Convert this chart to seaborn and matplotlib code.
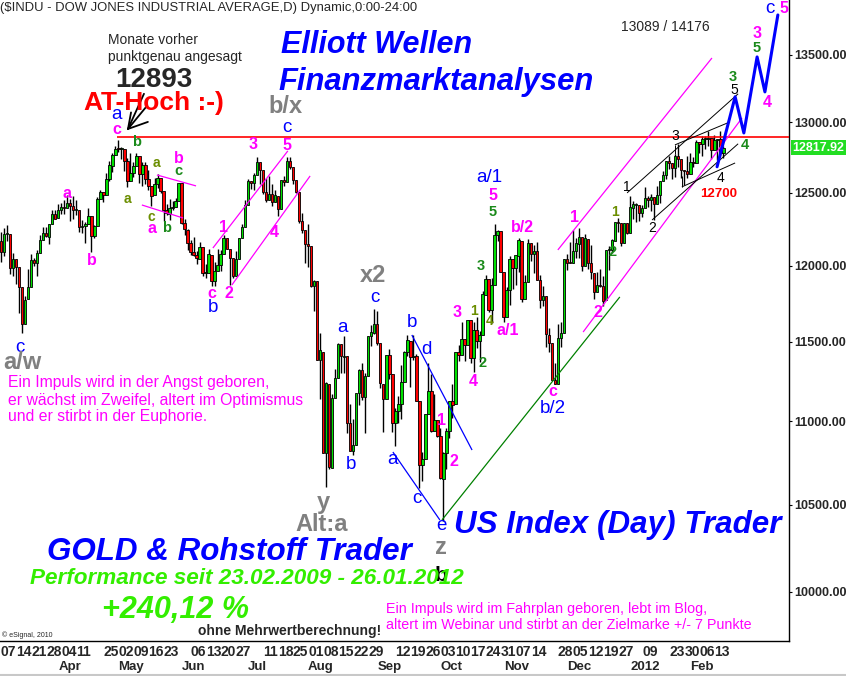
import numpy as np
import pandas as pd
import matplotlib
matplotlib.use("Agg")
import matplotlib.pyplot as plt
import matplotlib.transforms as mtransforms
from matplotlib.ticker import NullLocator
import seaborn as sns

# ---------------- daily candles (day, open, high, low, close) ----------------
mar11 = [(7,12169,12229,12024,12090),(8,12089,12254,12064,12214),(9,12213,12276,12169,12213),
         (10,12211,12211,11946,11984),(11,11983,12087,11934,12044),(14,12042,12042,11880,11993),
         (15,11988,11988,11688,11855),(16,11855,11855,11555,11613),(17,11614,11800,11614,11775),
         (18,11777,11979,11777,11859),(21,11860,12078,11860,12037),(22,12036,12051,11995,12019),
         (23,12016,12105,11930,12086),(24,12087,12207,12087,12171),(25,12170,12260,12170,12221),
         (28,12221,12261,12197,12198),(29,12197,12284,12144,12280),(30,12280,12376,12280,12350),
         (31,12350,12381,12315,12320)]
apr11 = [(1,12321,12419,12321,12377),(4,12376,12431,12353,12400),(5,12398,12450,12355,12393),
         (6,12394,12484,12394,12427),(7,12426,12453,12300,12409),(8,12409,12479,12318,12380),
         (11,12381,12450,12343,12381),(12,12380,12380,12225,12263),(13,12264,12311,12221,12270),
         (14,12269,12295,12150,12285),(15,12285,12391,12285,12341),(18,12340,12340,12093,12202),
         (19,12202,12276,12187,12266),(20,12267,12472,12267,12453),(21,12453,12515,12453,12506),
         (25,12505,12505,12436,12480),(26,12480,12635,12480,12595),(27,12595,12722,12582,12691),
         (28,12690,12778,12647,12763),(29,12763,12830,12763,12811)]
may11 = [(2,12810,12876,12785,12808),(3,12807,12822,12734,12807),(4,12806,12808,12650,12724),
         (5,12723,12747,12540,12584),(6,12585,12780,12585,12638),(9,12637,12716,12613,12685),
         (10,12684,12781,12684,12760),(11,12758,12758,12570,12630),(12,12630,12719,12545,12696),
         (13,12695,12716,12560,12596),(16,12595,12660,12516,12548),(17,12545,12545,12405,12479),
         (18,12480,12600,12480,12560),(19,12561,12631,12530,12606),(20,12604,12604,12500,12512),
         (23,12511,12511,12300,12381),(24,12381,12421,12348,12356),(25,12355,12454,12311,12395),
         (26,12394,12442,12377,12403),(27,12402,12466,12402,12441),(31,12442,12570,12442,12570)]
jun11 = [(1,12569,12569,12284,12290),(2,12289,12318,12206,12248),(3,12245,12247,12104,12151),
         (6,12150,12170,12069,12090),(7,12089,12196,12068,12071),(8,12070,12098,12014,12049),
         (9,12048,12158,12048,12124),(10,12123,12123,11932,11952),(13,11951,12010,11915,11953),
         (14,11953,12115,11953,12076),(15,12075,12075,11862,11897),(16,11896,12025,11862,11962),
         (17,11962,12110,11962,12004),(20,12004,12104,11966,12080),(21,12080,12205,12080,12190),
         (22,12190,12190,12110,12110),(23,12109,12109,11874,12050),(24,12050,12050,11920,11934),
         (27,11934,12100,11934,12043),(28,12043,12190,12043,12188),(29,12188,12282,12188,12262),
         (30,12262,12450,12262,12414)]
jul11 = [(1,12414,12599,12413,12582),(5,12582,12582,12527,12570),(6,12569,12640,12521,12626),
         (7,12626,12753,12626,12719),(8,12718,12718,12559,12657),(11,12656,12656,12490,12505),
         (12,12504,12602,12437,12447),(13,12446,12617,12446,12492),(14,12491,12562,12408,12437),
         (15,12437,12515,12437,12480),(18,12479,12479,12341,12385),(19,12385,12592,12385,12587),
         (20,12587,12620,12549,12572),(21,12571,12751,12571,12724),(22,12724,12750,12666,12681),
         (25,12681,12681,12560,12592),(26,12592,12592,12499,12502),(27,12501,12501,12287,12303),
         (28,12302,12361,12220,12240),(29,12239,12240,12018,12143)]
aug11 = [(1,12144,12285,11989,12133),(2,12132,12132,11860,11867),(3,11866,11904,11700,11897),
         (4,11896,11896,11383,11384),(5,11384,11555,11139,11445),(8,11433,11434,10810,10810),
         (9,10810,11244,10604,11240),(10,11229,11229,10711,10720),(11,10719,11172,10719,11144),
         (12,11143,11324,11143,11270),(15,11269,11490,11269,11483),(16,11483,11483,11300,11406),
         (17,11405,11537,11300,11410),(18,11406,11406,10928,10991),(19,10989,11109,10818,10818),
         (22,10818,11015,10796,10855),(23,10855,11177,10855,11177),(24,11177,11328,11100,11321),
         (25,11321,11364,11135,11150),(26,11149,11300,10930,11285),(29,11284,11540,11284,11540),
         (30,11539,11610,11476,11560),(31,11559,11716,11553,11614)]
sep11 = [(1,11613,11698,11479,11494),(2,11492,11492,11204,11240),(6,11231,11231,10932,11139),
         (7,11140,11415,11140,11415),(8,11413,11456,11264,11296),(9,11294,11294,10933,10992),
         (12,10990,11083,10850,11062),(13,11061,11159,10989,11105),(14,11106,11354,11012,11247),
         (15,11246,11440,11246,11433),(16,11434,11545,11412,11509),(19,11508,11508,11214,11401),
         (20,11402,11547,11385,11408),(21,11407,11425,11124,11125),(22,11124,11124,10597,10734),
         (23,10733,10813,10640,10771),(26,10771,11044,10771,11044),(27,11045,11366,11045,11191),
         (28,11190,11293,10933,10939),(29,10940,11170,10940,11011),(30,11010,11010,10906,10913)]
oct11 = [(3,10912,10957,10653,10655),(4,10650,10811,10404,10809),(5,10806,10957,10711,10940),
         (6,10939,11123,10897,11123),(7,11123,11233,11023,11103),(10,11104,11434,11104,11433),
         (11,11432,11477,11376,11417),(12,11416,11626,11416,11519),(13,11518,11518,11375,11479),
         (14,11478,11644,11478,11644),(17,11643,11643,11366,11397),(18,11396,11626,11305,11577),
         (19,11576,11660,11462,11505),(20,11504,11568,11371,11542),(21,11543,11832,11543,11809),
         (24,11808,11936,11808,11913),(25,11912,11912,11695,11707),(26,11706,11918,11619,11869),
         (27,11874,12284,11874,12209),(28,12208,12243,12164,12232),(31,12232,12232,11955,11955)]
nov11 = [(1,11955,11955,11630,11658),(2,11659,11860,11659,11836),(3,11836,12063,11736,12045),
         (4,12044,12044,11846,11983),(7,11982,12070,11873,12069),(8,12068,12188,11958,12170),
         (9,12167,12167,11761,11781),(10,11781,11938,11781,11894),(11,11893,12179,11893,12153),
         (14,12152,12152,12030,12079),(15,12078,12139,11954,12097),(16,12096,12158,11906,11906),
         (17,11905,11939,11722,11771),(18,11770,11867,11735,11796),(21,11795,11795,11469,11548),
         (22,11547,11592,11433,11494),(23,11493,11493,11257,11258),(25,11257,11367,11231,11231),
         (28,11232,11617,11232,11524),(29,11523,11628,11468,11556),(30,11559,12046,11559,12046)]
dec11 = [(1,12045,12080,11973,12020),(2,12021,12159,12016,12019),(5,12020,12244,12020,12098),
         (6,12097,12190,12054,12150),(7,12147,12258,12054,12196),(8,12195,12195,11965,11997),
         (9,11998,12214,11998,12184),(12,12183,12183,11976,12021),(13,12020,12139,11911,11955),
         (14,11953,11953,11781,11824),(15,11825,11959,11825,11869),(16,11868,11975,11858,11867),
         (19,11866,11930,11735,11766),(20,11769,12107,11769,12104),(21,12103,12135,11968,12108),
         (22,12107,12178,12087,12170),(23,12169,12295,12169,12295),(27,12294,12324,12229,12292),
         (28,12291,12293,12131,12151),(29,12151,12292,12151,12288),(30,12287,12287,12214,12218)]
jan12 = [(3,12221,12479,12221,12398),(4,12396,12440,12320,12418),(5,12414,12431,12295,12416),
         (6,12415,12415,12300,12360),(9,12359,12415,12328,12393),(10,12394,12541,12394,12462),
         (11,12460,12474,12398,12449),(12,12448,12490,12374,12471),(13,12469,12469,12311,12422),
         (17,12423,12545,12423,12482),(18,12481,12580,12428,12579),(19,12578,12654,12578,12624),
         (20,12623,12721,12595,12720),(23,12720,12755,12665,12709),(24,12708,12708,12593,12676),
         (25,12673,12775,12610,12758),(26,12757,12841,12677,12735),(27,12734,12734,12601,12660),
         (30,12659,12659,12555,12654),(31,12654,12757,12600,12633)]
feb12 = [(1,12632,12780,12632,12716),(2,12716,12753,12680,12706),(3,12706,12876,12706,12862),
         (6,12861,12861,12783,12845),(7,12843,12899,12757,12878),(8,12878,12905,12805,12884),
         (9,12883,12936,12830,12891),(10,12890,12890,12738,12801),(13,12801,12906,12801,12874),
         (14,12874,12879,12728,12878),(15,12878,12938,12762,12781),(16,12781,12830,12745,12818)]

month_keys = ["2011-03","2011-04","2011-05","2011-06","2011-07","2011-08",
              "2011-09","2011-10","2011-11","2011-12","2012-01","2012-02"]
month_data = [mar11, apr11, may11, jun11, jul11, aug11, sep11, oct11, nov11, dec11, jan12, feb12]

# date labels (month key, day) and month labels
day_label_dates = [("2011-03",7),("2011-03",14),("2011-03",21),("2011-03",28),("2011-04",4),("2011-04",11),
                   ("2011-04",25),("2011-05",2),("2011-05",9),("2011-05",16),("2011-05",23),
                   ("2011-06",6),("2011-06",13),("2011-06",20),("2011-06",27),
                   ("2011-07",11),("2011-07",18),("2011-07",25),("2011-08",1),("2011-08",8),("2011-08",15),
                   ("2011-08",22),("2011-08",29),
                   ("2011-09",12),("2011-09",19),("2011-09",26),("2011-10",3),("2011-10",10),("2011-10",17),
                   ("2011-10",24),("2011-10",31),("2011-11",7),("2011-11",14),
                   ("2011-11",28),("2011-12",5),("2011-12",12),("2011-12",19),("2011-12",27),
                   ("2012-01",9),("2012-01",23),("2012-01",30),("2012-02",6),("2012-02",13)]
month_label_keys = ["2011-04","2011-05","2011-06","2011-07","2011-08","2011-09",
                    "2011-10","2011-11","2011-12","2012-01","2012-02"]
month_label_text = ["Apr","May","Jun","Jul","Aug","Sep","Oct","Nov","Dec","2012","Feb"]

y_ticks = [10000, 10500, 11000, 11500, 12000, 12500, 13000, 13500]
last_price = 12817.92
at_high = 12893

# wave labels: (text, trading-day index, price)
blue_labels = [("a",38.5,13060),("c",6.3,11464),("b",70.4,11723),("c",95.0,12964),("a/1",162.1,12603),
               ("a",113.3,11592),("c",124.3,11788),("b",116.3,10735),("b",136.5,11628),("d",141.5,11448),
               ("a",130.2,10765),("c",138.2,10533),("e",146.2,10375),("b/2",183.4,11082),("c",255.5,13852)]
magenta_labels = [("c",38.5,12946),("a",21.9,12491),("b",30.2,12038),("b",59.1,12738),("a",50.2,12255),
                  ("1",73.8,12262),("2",75.7,11818),("c",70.1,11818),("3",83.7,12838),("5",95.0,12831),
                  ("4",90.7,12222),("3",151.5,11693),("4",156.8,11245),("5",163.5,12477),("a/1",168.4,11576),
                  ("b/2",173.1,12262),("1",190.4,12324),("2",198.3,11687),("c",183.4,11186),("1",146.5,11008),
                  ("2",150.5,10753),("3",251.2,13666),("4",254.5,13146),("5",260.1,13852)]
green_labels = [("b",45.2,12860),("c",58.8,12653),("b",55.1,12256),("5",163.5,12366),("3",159.5,11998),
                ("2",160.1,11365),("2",203.3,12092),("3",243.2,13335),("5",251.2,13553),("4",247.2,12838)]
olive_labels = [("a",41.9,12456),("a",51.8,12709),("c",49.8,12330),("1",157.1,11700),("4",162.5,11634),
                ("1",204.0,12366)]
black_labels = [("3",223.9,12903),("5",243.5,13239),("4",238.9,12603),("1",208.0,12540),("2",216.3,12256)]
gray_labels = [("a/w",7.0,11368),("b/x",94.4,13117),("x2",123.6,11931),("y",107.0,10515),
               ("Alt:a",106.6,10381),("z",146.2,10252)]

# trend / channel lines: ((i0, p0), (i1, p1))
magenta_lines = [((51.8,12624),(64.8,12547)),((46.8,12414),(60.5,12324)),
                 ((70.4,12119),(95.3,12795)),((76.7,11871),(102.7,12617)),
                 ((185.0,12106),(236.2,13477)),((193.4,11563),(246.2,13033))]
green_lines = [((146.5,10410),(205.6,11792))]
blue_thin_lines = [((130.2,10813),(145.8,10410)),((136.5,11544),(156.5,10825))]
black_lines = [((208.0,12498),(244.9,13210)),((216.3,12310),(244.9,12846)),
               ((223.9,12838),(242.2,13004)),((226.2,12540),(243.9,12709)),
               ((223.9,12838),(223.9,12770)),((226.2,12540),(226.2,12620))]
arrow_tip = (42.2, 12953)
arrow_ends = [(43.2,13073),(47.5,13210),(48.5,13121),(48.8,13004)]
proj_i = [237.9, 243.9, 246.8, 251.2, 253.8, 258.1]
proj_p = [12682, 13188, 12924, 13485, 13224, 13805]

# ---------------- build table ----------------
rows = []
for key, lst in zip(month_keys, month_data):
    for d, o, h, l, c in lst:
        rows.append((key, d, o, h, l, c))
df = pd.DataFrame(rows, columns=["month", "day", "o", "h", "l", "c"])
df["idx"] = np.arange(len(df))
lookup = {(m, d): i for m, d, i in zip(df.month, df.day, df.idx)}
first_of_month = df.groupby("month")["idx"].min()

# ---------------- figure ----------------
sns.set_style("white")
plt.rcParams['font.family'] = ['Liberation Sans', 'DejaVu Sans']

W, H = 846, 676
fig = plt.figure(figsize=(W/100, H/100), dpi=100)
fig.patch.set_facecolor("white")
ax = fig.add_axes([0, 35/H, 789/W, 641/H])
ax.set_facecolor("white")
ax.set_yscale("log")
ax.set_ylim(9729, 13921)
ax.set_xlim(-0.33, 261.8)

GREEN = "#00e000"
RED = "#ff0000"

# candles
ax.vlines(df.idx, df.l, df.h, color="black", lw=1.0, zorder=2)
up = df[df.c >= df.o]
dn = df[df.c < df.o]
for part, col in ((up, GREEN), (dn, RED)):
    lo = np.minimum(part.o, part.c)
    hi = np.maximum(part.o, part.c)
    ht = np.maximum(hi - lo, 6)
    ax.bar(part.idx, ht, bottom=lo, width=0.82, color=col, edgecolor="black", lw=0.6, zorder=3)

# red AT-high line
ax.hlines(at_high, 38.6, 261.8, color="red", lw=1.2, zorder=4)

def draw_lines(lines, color, lw):
    for (x0, y0), (x1, y1) in lines:
        ax.plot([x0, x1], [y0, y1], color=color, lw=lw, zorder=4, solid_capstyle="butt")

draw_lines(magenta_lines, "#ff00ff", 0.9)
draw_lines(green_lines, "#008000", 0.9)
draw_lines(blue_thin_lines, "#0000ff", 0.9)
draw_lines(black_lines, "black", 0.7)
for e in arrow_ends:
    ax.plot([arrow_tip[0], e[0]], [arrow_tip[1], e[1]], color="black", lw=1.3, zorder=6)

# projection
proj = pd.DataFrame({"i": proj_i, "p": proj_p})
sns.lineplot(data=proj, x="i", y="p", color="#0000ff", lw=2.2, ax=ax, zorder=5, sort=False)
ax.set_xlabel("")
ax.set_ylabel("")

def put(labels, color, size, weight):
    for t, i, p in labels:
        ax.text(i, p, t, color=color, fontsize=size, fontweight=weight, ha="center", va="center", zorder=7)

put(blue_labels, "#0000ff", 13.5, "normal")
put(magenta_labels, "#ff00ff", 11.5, "bold")
put(green_labels, "#1a8a1a", 10.5, "bold")
put(olive_labels, "#6b8e00", 10, "bold")
put(black_labels, "black", 10, "normal")
put(gray_labels, "#808080", 17, "bold")
ax.text(146.2, 10092, "b", color="black", fontsize=15, fontweight="bold", ha="center", va="center", zorder=7)
ax.text(238.5, 12491, "12700", color="#ff0000", fontsize=9.5, fontweight="bold", ha="center", va="center", zorder=7)

# axes styling
for s in ("left", "top"):
    ax.spines[s].set_visible(False)
for s in ("right", "bottom"):
    ax.spines[s].set_color("black")
    ax.spines[s].set_linewidth(1.0)
ax.yaxis.tick_right()
ax.yaxis.set_minor_locator(NullLocator())
ax.set_yticks(y_ticks)
ax.set_yticklabels([f"{v:.2f}" for v in y_ticks], fontsize=9, fontweight="bold")
ax.tick_params(axis="y", length=2, pad=1.5, color="black")

ax.xaxis.remove_overlapping_locs = False
ax.set_xticks([lookup[k] for k in day_label_dates])
ax.set_xticklabels([f"{d:02d}" for _, d in day_label_dates], fontsize=10, fontweight="bold", ha="left")
ax.set_xticks([first_of_month[k] for k in month_label_keys], minor=True)
ax.set_xticklabels(month_label_text, minor=True, fontsize=9.5, fontweight="bold", ha="left")
ax.tick_params(axis="x", which="both", length=0)
ax.tick_params(axis="x", which="major", pad=3)
ax.tick_params(axis="x", which="minor", pad=14.5)
ax.grid(False)

# last price box
trans = mtransforms.blended_transform_factory(ax.transAxes, ax.transData)
ax.text(1.004, last_price, f"{last_price:.2f}", transform=trans, color="white", fontsize=9, fontweight="bold",
        ha="left", va="center", clip_on=False, zorder=8,
        bbox=dict(boxstyle="square,pad=0.12", fc="#22dd22", ec="none"))

# ---------------- free texts ----------------
def ft(x, y, s, **kw):
    fig.text(x/W, 1 - y/H, s, **kw)

ft(0, 8, "($INDU - DOW JONES INDUSTRIAL AVERAGE,D) Dynamic,0:00-24:00", fontsize=9.4, ha="left", va="center")
ft(108, 40, "Monate vorher", fontsize=10, ha="left", va="center")
ft(108, 57, "punktgenau angesagt", fontsize=10, ha="left", va="center")
ft(154, 80, "12893", fontsize=20, fontweight="bold", ha="center", va="center")
ft(154, 103, "AT-Hoch :-)", fontsize=19, fontweight="bold", color="#ff0000", ha="center", va="center")
ft(377, 45, "Elliott Wellen", fontsize=22, fontweight="bold", style="italic", color="#0000ff", ha="center", va="center")
ft(436, 82, "Finanzmarktanalysen", fontsize=22.3, fontweight="bold", style="italic", color="#0000ff", ha="center", va="center")
ft(665, 27, "13089 / 14176", fontsize=10, ha="center", va="center")
ft(618, 525, "US Index (Day) Trader", fontsize=22.6, fontweight="bold", style="italic", color="#0000ff", ha="center", va="center")
ft(229, 552, "GOLD & Rohstoff Trader", fontsize=22.6, fontweight="bold", style="italic", color="#0000ff", ha="center", va="center")
ft(247, 578, "Performance seit 23.02.2009 - 26.01.2012", fontsize=16.2, fontweight="bold", style="italic", color="#33ee00", ha="center", va="center")
ft(175, 610, "+240,12 %", fontsize=22, fontweight="bold", style="italic", color="#33ee00", ha="center", va="center")
ft(290, 631, "ohne Mehrwertberechnung!", fontsize=10, fontweight="bold", ha="center", va="center")
ft(2, 635, "\u00a9 eSignal, 2010", fontsize=5, ha="left", va="center")
ft(8, 383, "Ein Impuls wird in der Angst geboren,", fontsize=11.3, color="#ff00ff", ha="left", va="center")
ft(8, 400, "er wächst im Zweifel, altert im Optimismus", fontsize=11.3, color="#ff00ff", ha="left", va="center")
ft(8, 416, "und er stirbt in der Euphorie.", fontsize=11.3, color="#ff00ff", ha="left", va="center")
ft(386, 609, "Ein Impuls wird im Fahrplan geboren, lebt im Blog,", fontsize=10.3, color="#ff00ff", ha="left", va="center")
ft(386, 625, "altert im Webinar und stirbt an der Zielmarke +/- 7 Punkte", fontsize=10.3, color="#ff00ff", ha="left", va="center")

fig.add_artist(plt.Line2D([0, 1], [1.5/H, 1.5/H], transform=fig.transFigure, color="#c8c8c8", lw=1.5))

fig.savefig("out.png", dpi=100, facecolor="white")
